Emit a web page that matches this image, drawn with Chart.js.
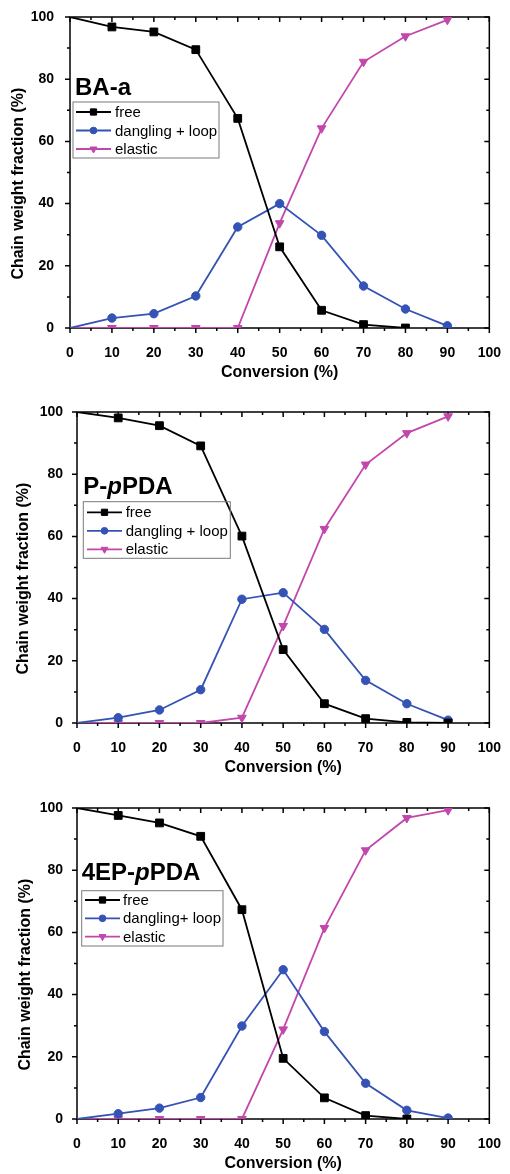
<!DOCTYPE html>
<html>
<head>
<meta charset="utf-8">
<script src="https://cdn.jsdelivr.net/npm/chart.js@4.4.0/dist/chart.umd.min.js"></script>
<style>
  html, body { margin: 0; padding: 0; background: #fff; }
  .panel { position: absolute; left: 0; }
  canvas { display: block; }
</style>
</head>
<body>
<div class="panel" style="top:0px"><canvas id="c1" width="510" height="390"></canvas></div>
<div class="panel" style="top:390px"><canvas id="c2" width="510" height="392"></canvas></div>
<div class="panel" style="top:782px"><canvas id="c3" width="510" height="392"></canvas></div>
<script>
// conversion (%) on the x axis
const conversion = [0, 10, 20, 30, 40, 50, 60, 70, 80, 90];

// BA-a
const baFree = [100, 96.8, 95.2, 89.5, 67.4, 26.1, 5.7, 1.1, 0];
const baDangling = [0, 3.2, 4.6, 10.3, 32.5, 40, 29.8, 13.5, 6.1, 0.7];
const baElastic = [0, 0, 0, 0, 0, 33.7, 64.2, 85.6, 93.8, 99.1];

// P-pPDA
const ppFree = [100, 98.1, 95.6, 89.1, 60.1, 23.6, 6.2, 1.4, 0.2, 0];
const ppDangling = [0, 1.7, 4.2, 10.7, 39.8, 41.9, 30.1, 13.7, 6.2, 0.9];
const ppElastic = [0, 0, 0, 0, 1.7, 31.2, 62.4, 83.1, 93.2, 98.6];

// 4EP-pPDA
const epFree = [100, 97.6, 95.2, 90.9, 67.3, 19.5, 6.8, 1.1, 0];
const epDangling = [0, 1.7, 3.5, 6.9, 29.9, 48, 28.1, 11.5, 2.8, 0.3];
const epElastic = [0, 0, 0, 0, 0, 28.8, 61.4, 86.4, 96.8, 99.3];

const FONT = '"Liberation Sans", Arial, sans-serif';
Chart.defaults.font.family = FONT;
Chart.defaults.color = '#000';

const BLACK = '#000000';
const BLUE = '#3553b4';
const MAGENTA = '#c347ab';

function series(name, values, color, style, radius, rotation) {
    return { name, values, color, style, radius, rotation: rotation || 0 };
}

// box + inward/outward ticks like the original plot
const frameTicks = {
    id: 'frameTicks',
    beforeDatasetsDraw(chart) {
        const { ctx, chartArea: a, scales: { x, y } } = chart;
        ctx.save();
        ctx.strokeStyle = '#000';
        ctx.lineWidth = 1.5;
        ctx.strokeRect(a.left, a.top, a.right - a.left, a.bottom - a.top);
        ctx.beginPath();
        for (let v = 0; v <= 100; v += 5) {
            const len = v % 10 === 0 ? 5 : 3;
            const px = x.getPixelForValue(v);
            ctx.moveTo(px, a.bottom); ctx.lineTo(px, a.bottom + len);
            ctx.moveTo(px, a.top); ctx.lineTo(px, a.top + len);
        }
        for (let v = 0; v <= 100; v += 10) {
            const len = v % 20 === 0 ? 5 : 3;
            const py = y.getPixelForValue(v);
            ctx.moveTo(a.left, py); ctx.lineTo(a.left - len, py);
            ctx.moveTo(a.right, py); ctx.lineTo(a.right - len, py);
        }
        ctx.stroke();
        ctx.restore();
    }
};

function buildPanel(id, g, list, deco) {
    const canvas = document.getElementById(id);
    const W = canvas.width, H = canvas.height;

    const datasets = list.map(s => ({
        label: s.name,
        data: s.values.map((v, i) => ({ x: conversion[i], y: v })),
        borderColor: s.color,
        backgroundColor: s.color,
        borderWidth: 1.8,
        pointStyle: s.style,
        pointRotation: s.rotation,
        pointRadius: c => (c.dataIndex === 0 ? 0 : s.radius),
        pointBorderWidth: 1,
        tension: 0
    }));

    // sample name + legend box
    const decoPlugin = {
        id: 'panelDeco',
        afterDraw(chart) {
            const { ctx, chartArea: a } = chart;
            ctx.save();
            let tx = a.left + deco.labelX;
            const ty = a.top + deco.labelY;
            ctx.fillStyle = '#000';
            ctx.textBaseline = 'alphabetic';
            deco.label.forEach(part => {
                ctx.font = (part.italic ? 'italic ' : '') + 'bold 24px ' + FONT;
                ctx.fillText(part.text, tx, ty);
                tx += ctx.measureText(part.text).width;
            });

            const bx = a.left + deco.box.x, by = a.top + deco.box.y;
            ctx.strokeStyle = '#7a7a7a';
            ctx.lineWidth = 1;
            ctx.strokeRect(bx, by, deco.box.w, deco.box.h);
            list.forEach((s, i) => {
                const cy = by + deco.rowStart + i * deco.rowGap;
                const x0 = bx + deco.lineX;
                ctx.strokeStyle = s.color;
                ctx.fillStyle = s.color;
                ctx.lineWidth = 1.8;
                ctx.beginPath();
                ctx.moveTo(x0, cy);
                ctx.lineTo(x0 + 35, cy);
                ctx.stroke();
                ctx.lineWidth = 1;
                Chart.helpers.drawPoint(ctx, {
                    pointStyle: s.style, radius: s.radius * 0.8, rotation: s.rotation, borderWidth: 1
                }, x0 + 17.5, cy);
                ctx.fillStyle = '#000';
                ctx.font = '15px ' + FONT;
                ctx.textBaseline = 'middle';
                ctx.fillText(s.name, bx + deco.textX, cy + 1);
            });
            ctx.restore();
        }
    };

    new Chart(canvas, {
        type: 'line',
        data: { datasets },
        options: {
            responsive: false,
            animation: false,
            events: [],
            layout: { padding: { top: g.T, right: W - g.R, left: 0, bottom: 0 } },
            plugins: {
                legend: { display: false },
                tooltip: { enabled: false }
            },
            scales: {
                x: {
                    type: 'linear', min: 0, max: 100,
                    grid: { display: false },
                    border: { display: false },
                    ticks: { stepSize: 10, padding: 9, color: '#000', maxRotation: 0, autoSkip: false,
                             font: { size: 14, weight: 'bold' } },
                    title: { display: true, text: 'Conversion (%)', color: '#000',
                             font: { size: 16, weight: 'bold' },
                             padding: { top: 0, bottom: H - g.B - g.xTitle - 9.6 } },
                    afterFit: s => { s.height = H - g.B; }
                },
                y: {
                    min: 0, max: 100,
                    grid: { display: false },
                    border: { display: false },
                    ticks: { stepSize: 20, padding: g.yPad, color: '#000',
                             font: { size: 14, weight: 'bold' } },
                    title: { display: true, text: 'Chain weight fraction (%)' + '     ', color: '#000',
                             font: { size: 16, weight: 'bold' },
                             padding: { top: g.yTitle - 9.6, bottom: 0 } },
                    afterFit: s => { s.width = g.L; }
                }
            }
        },
        plugins: [frameTicks, decoPlugin]
    });
}

buildPanel('c1',
    { L: 70, T: 17, R: 491, B: 328, xTitle: 44.5, yTitle: 18.3, yPad: 8 },
    [series('free', baFree, BLACK, 'rect', 5.5),
     series('dangling + loop', baDangling, BLUE, 'circle', 4.2),
     series('elastic', baElastic, MAGENTA, 'triangle', 5, 180)],
    { label: [{ text: 'BA-a' }], labelX: 5, labelY: 78,
      box: { x: 3, y: 85, w: 146, h: 56 }, rowStart: 10, rowGap: 18.5, lineX: 3, textX: 42 });

buildPanel('c2',
    { L: 77, T: 22, R: 497, B: 333, xTitle: 44.6, yTitle: 24, yPad: 6 },
    [series('free', ppFree, BLACK, 'rect', 5.5),
     series('dangling + loop', ppDangling, BLUE, 'circle', 4.2),
     series('elastic', ppElastic, MAGENTA, 'triangle', 5, 180)],
    { label: [{ text: 'P-' }, { text: 'p', italic: true }, { text: 'PDA' }], labelX: 6.3, labelY: 82,
      box: { x: 6.3, y: 89.7, w: 147, h: 56.6 }, rowStart: 10.6, rowGap: 18.5, lineX: 3.7, textX: 42.4 });

buildPanel('c3',
    { L: 77, T: 26, R: 498, B: 337, xTitle: 44.7, yTitle: 25.8, yPad: 6 },
    [series('free', epFree, BLACK, 'rect', 5.5),
     series('dangling+ loop', epDangling, BLUE, 'circle', 4.2),
     series('elastic', epElastic, MAGENTA, 'triangle', 5, 180)],
    { label: [{ text: '4EP-' }, { text: 'p', italic: true }, { text: 'PDA' }], labelX: 4.7, labelY: 72,
      box: { x: 4.7, y: 82.7, w: 141.3, h: 55.3 }, rowStart: 9.3, rowGap: 18.3, lineX: 3.3, textX: 41.3 });
</script>
</body>
</html>
